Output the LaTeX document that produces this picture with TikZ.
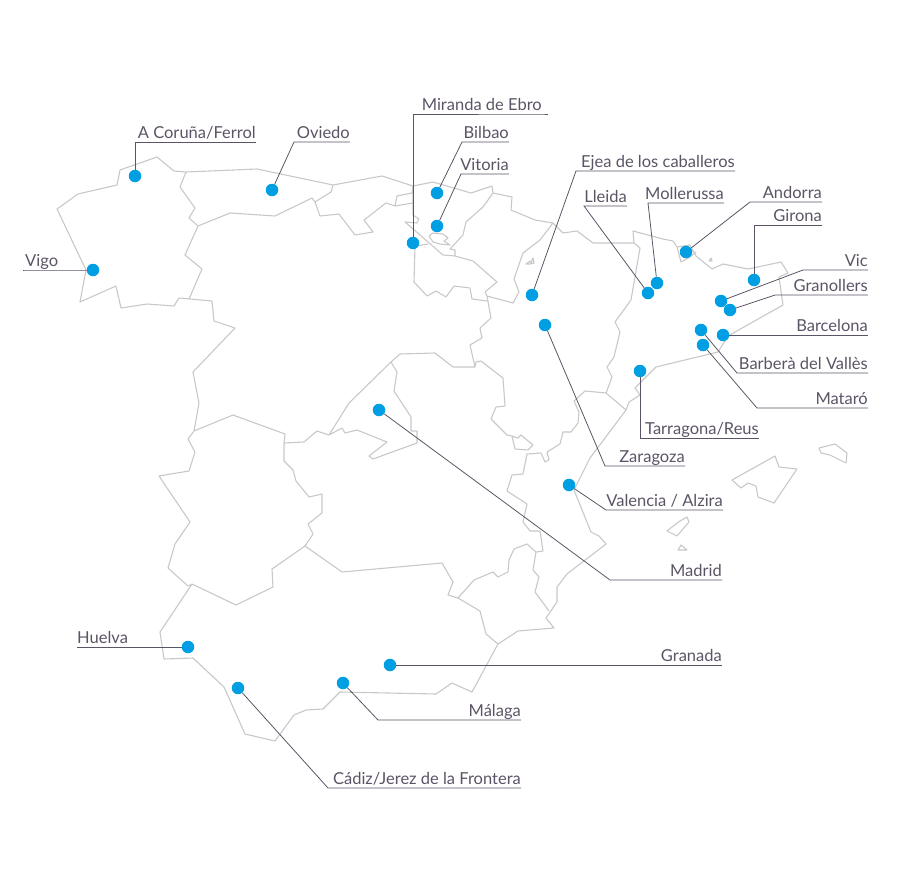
\documentclass[tikz,border=0pt]{standalone}
\usepackage{fontspec}
\setmainfont{Lato}
\definecolor{mapgrey}{HTML}{C8C8C8}
\definecolor{leadergrey}{HTML}{5C5466}
\definecolor{dotblue}{HTML}{009FE3}
\tikzset{
  border/.style = {draw=mapgrey, line width=1.1pt, line join=round},
  leader/.style = {draw=leadergrey, line width=0.8pt},
  site/.style   = {shape=circle, fill=dotblue, inner sep=0pt, minimum size=12.5pt},
  place/.style  = {inner sep=0pt, text height=10pt, text depth=3.6pt, text=leadergrey,
                   font=\fontsize{16.5}{19}\selectfont},
}
\begin{document}
\begin{tikzpicture}[x=1pt, y=-1pt]
	\useasboundingbox (0,0) rectangle (900,881);
	\path [border]
		(192,584) -- (160,632) -- (164,659) -- (193,658) -- (224,687) -- (245,734) -- (275,741)
		-- (294,715) -- (306,710) -- (323,709) -- (340,692) -- (436,694) -- (452,683) -- (472,692)
		-- (498,644) -- (518,631) -- (554,628) -- (546,618) -- (557,602) -- (557,587) -- (567,574)
		-- (606,544) -- (599,536) -- (591,532) -- (574,490) -- (590,458) -- (626,410) -- (629,402)
		-- (640,395) -- (635,388) -- (656,367) -- (718,352) -- (728,336) -- (783,305) -- (779,277)
		-- (788,273) -- (781,262) -- (748,269) -- (723,264) -- (712,269) -- (696,256) -- (690,245)
		-- (677,247) -- (681,262) -- (690,257) -- (696,252)
		(677,247) -- (673,241) -- (663,239) -- (633,231) -- (634,243) -- (593,243) -- (577,231)
		-- (563,233) -- (553,223) -- (535,220) -- (511,210) -- (512,197) -- (493,193) -- (492,186)
		-- (471,193) -- (433,182) -- (413,186) -- (382,176) -- (333,185) -- (257,169) -- (186,172)
		-- (174,171) -- (157,157) -- (120,170) -- (117,185) -- (78,194) -- (57,209) -- (86,270)
		-- (80,302) -- (116,286) -- (121,308) -- (147,304) -- (174,306) -- (179,298) -- (212,301)
		-- (214,321) -- (235,328) -- (193,372) -- (199,403) -- (194,431) -- (188,439) -- (195,452)
		-- (189,471) -- (159,476) -- (190,522) -- (175,544) -- (168,568) -- (188,586) -- (192,584)
		-- (236,605) -- (273,587) -- (272,569) -- (305,546) -- (313,534) -- (308,524) -- (322,513)
		-- (322,494) -- (309,497) -- (296,481) -- (293,470) -- (284,461) -- (284,443) -- (285,434)
		-- (233,415) -- (194,431)
		(186,172) -- (180,187) -- (195,208) -- (189,218) -- (198,226) -- (230,213) -- (275,216)
		-- (312,198) -- (315,202) -- (331,192) -- (333,185)
		(315,202) -- (320,216) -- (339,214) -- (355,235) -- (373,232) -- (364,220) -- (386,203)
		-- (395,206) -- (413,203)
		(413,186) -- (412,193) -- (397,196) -- (395,206)
		(198,226) -- (185,255) -- (202,269) -- (189,299)
		(413,186) -- (413,215) -- (419,219) -- (417,223) -- (405,222) -- (443,255) -- (455,256)
		-- (455,250) -- (450,249) -- (463,235) -- (466,222) -- (483,207) -- (493,193)
		(553,223) -- (540,240) -- (523,253) -- (514,279) -- (519,292) -- (513,303) -- (487,296)
		-- (485,292) -- (497,282) -- (473,261) -- (455,256)
		(417,246) -- (428,244)
		(415,247) -- (414,282) -- (427,296) -- (436,291) -- (446,297) -- (454,286) -- (470,288)
		-- (472,299) -- (487,301)
		(487,296) -- (491,318) -- (480,328) -- (482,338) -- (470,345) -- (475,367) -- (453,367)
		-- (435,353) -- (400,354) -- (391,362) -- (349,403) -- (329,435) -- (317,431) -- (304,442)
		-- (284,443)
		(475,367) -- (476,362) -- (481,361) -- (503,378) -- (505,406) -- (496,407) -- (491,419)
		-- (507,435) -- (512,436) -- (515,449) -- (528,450) -- (533,445) -- (521,435) -- (518,438)
		-- (512,436)
		(329,435) -- (342,428) -- (345,433) -- (357,430) -- (387,442) -- (369,456) -- (373,459)
		-- (417,443) -- (417,431) -- (411,431) -- (411,417) -- (394,391) -- (397,372) -- (391,362)
		(305,546) -- (342,572) -- (442,563) -- (453,582) -- (448,595) -- (458,598) -- (480,611)
		-- (486,634) -- (498,644)
		(458,598) -- (474,580) -- (493,572) -- (498,577) -- (508,572) -- (509,560) -- (514,549)
		-- (527,544) -- (536,552) -- (543,551) -- (540,531) -- (530,531) -- (523,522) -- (527,504)
		-- (507,491) -- (512,475) -- (523,474) -- (527,454) -- (541,453) -- (545,462) -- (549,460)
		-- (547,452) -- (560,444) -- (563,432) -- (571,432) -- (578,423) -- (579,412) -- (574,401)
		-- (585,391) -- (606,393) -- (626,410)
		(536,552) -- (533,570) -- (539,577) -- (535,592) -- (549,611)
		(606,393) -- (612,377) -- (607,367) -- (614,357) -- (620,332) -- (615,322) -- (631,300)
		-- (640,248) -- (634,243)
		(429,236) -- (433,233) -- (443,234) -- (448,238) -- (444,241) -- (450,245) -- (440,244)
		-- (433,242) -- cycle
		(526,264) -- (530,261) -- (531,263) -- (533,258) -- (534,263) -- (530,264) -- cycle
		(709,261) -- (711,258) -- (712,261) -- cycle
		(732,480) -- (775,456) -- (779,467) -- (797,469) -- (774,503) -- (758,497) -- (756,486)
		-- (748,483) -- (741,488) -- cycle
		(819,448) -- (835,444) -- (847,453) -- (846,463) -- (830,455) -- (821,453) -- cycle
		(667,531) -- (672,527) -- (680,521) -- (687,517) -- (689,522) -- (677,536) -- cycle
		(678,550) -- (681,545) -- (687,550) -- cycle;

	\node [place, anchor=south west] (vigoT) at (25,270) {Vigo};
	\node [place, anchor=south east] (coruT) at (256,142) {A Coruña/Ferrol};
	\node [place, anchor=south east] (oviedoT) at (350,142) {Oviedo};
	\node [place, anchor=south east] (mirandaT) at (542,114) {Miranda de Ebro};
	\node [place, anchor=south east] (bilbaoT) at (509,142) {Bilbao};
	\node [place, anchor=south east] (vitoriaT) at (509,174) {Vitoria};
	\node [place, anchor=south east] (ejeaT) at (735,171) {Ejea de los caballeros};
	\node [place, anchor=south east] (lleidaT) at (627,206) {Lleida};
	\node [place, anchor=south east] (molleT) at (724,203) {Mollerussa};
	\node [place, anchor=south east] (andorraT) at (822,202) {Andorra};
	\node [place, anchor=south east] (gironaT) at (822,225) {Girona};
	\node [place, anchor=south east] (vicT) at (868,270) {Vic};
	\node [place, anchor=south east] (granolT) at (868,295) {Granollers};
	\node [place, anchor=south east] (barnaT) at (868,335) {Barcelona};
	\node [place, anchor=south east] (barberaT) at (868,373) {Barberà del Vallès};
	\node [place, anchor=south east] (mataroT) at (868,408) {Mataró};
	\node [place, anchor=south east] (tarraT) at (759,438) {Tarragona/Reus};
	\node [place, anchor=south east] (zaragT) at (685,466) {Zaragoza};
	\node [place, anchor=south east] (valenT) at (723,510) {Valencia / Alzira};
	\node [place, anchor=south east] (madridT) at (722,580) {Madrid};
	\node [place, anchor=south west] (huelvaT) at (77,647) {Huelva};
	\node [place, anchor=south east] (granadaT) at (722,665) {Granada};
	\node [place, anchor=south east] (malagaT) at (521,720) {Málaga};
	\node [place, anchor=south east] (cadizT) at (521,788) {Cádiz/Jerez de la Frontera};

	\node [site] (vigo) at (93,270) {};
	\node [site] (coru) at (135,176) {};
	\node [site] (oviedo) at (272,190) {};
	\node [site] (miranda) at (413,243) {};
	\node [site] (bilbao) at (437,193) {};
	\node [site] (vitoria) at (437,226) {};
	\node [site] (ejea) at (532,295) {};
	\node [site] (zarag) at (545,325) {};
	\node [site] (lleida) at (648,293) {};
	\node [site] (molle) at (657,283) {};
	\node [site] (andorra) at (686,252) {};
	\node [site] (girona) at (754,280) {};
	\node [site] (vic) at (721,301) {};
	\node [site] (granol) at (730,310) {};
	\node [site] (barna) at (723,335) {};
	\node [site] (barbera) at (701,330) {};
	\node [site] (mataro) at (703,345) {};
	\node [site] (tarra) at (640,371) {};
	\node [site] (valen) at (569,485) {};
	\node [site] (madrid) at (379,410) {};
	\node [site] (huelva) at (188,647) {};
	\node [site] (granada) at (390,665) {};
	\node [site] (malaga) at (343,683) {};
	\node [site] (cadiz) at (238,688) {};

	\coordinate (coruK) at (135,142);
	\coordinate (oviedoK) at (294,142);
	\coordinate (mirandaK) at (413,114);
	\coordinate (bilbaoK) at (462,142);
	\coordinate (vitoriaK) at (461,174);
	\coordinate (ejeaK) at (576,171);
	\coordinate (lleidaK) at (584,206);
	\coordinate (molleK) at (648,203);
	\coordinate (andorraK) at (750,202);
	\coordinate (gironaK) at (754,225);
	\coordinate (vicK) at (803,270);
	\coordinate (granolK) at (775,295);
	\coordinate (barberaK) at (737,373);
	\coordinate (mataroK) at (757,408);
	\coordinate (tarraK) at (640,438);
	\coordinate (zaragK) at (605,466);
	\coordinate (valenK) at (606,510);
	\coordinate (madridK) at (610,580);
	\coordinate (malagaK) at (378,720);
	\coordinate (cadizK) at (328,788);

	\draw [leader] (vigo) -- (vigoT.south west) -- ++(-2,0);
	\draw [leader] (huelva) -- (huelvaT.south west);
	\draw [leader] (barna) -- (barnaT.south east);
	\draw [leader] (granada) -- (granadaT.south east);
	\draw [leader] (coru) -- (coruK) -- (coruT.south east);
	\draw [leader] (oviedo) -- (oviedoK) -- (oviedoT.south east);
	\draw [leader] (miranda) -- (mirandaK) -- (mirandaT.south east) -- ++(6,0);
	\draw [leader] (bilbao) -- (bilbaoK) -- (bilbaoT.south east);
	\draw [leader] (vitoria) -- (vitoriaK) -- (vitoriaT.south east);
	\draw [leader] (ejea) -- (ejeaK) -- (ejeaT.south east);
	\draw [leader] (lleida) -- (lleidaK) -- (lleidaT.south east);
	\draw [leader] (molle) -- (molleK) -- (molleT.south east);
	\draw [leader] (andorra) -- (andorraK) -- (andorraT.south east);
	\draw [leader] (girona) -- (gironaK) -- (gironaT.south east);
	\draw [leader] (vic) -- (vicK) -- (vicT.south east);
	\draw [leader] (granol) -- (granolK) -- (granolT.south east);
	\draw [leader] (barbera) -- (barberaK) -- (barberaT.south east);
	\draw [leader] (mataro) -- (mataroK) -- (mataroT.south east);
	\draw [leader] (tarra) -- (tarraK) -- (tarraT.south east);
	\draw [leader] (zarag) -- (zaragK) -- (zaragT.south east);
	\draw [leader] (valen) -- (valenK) -- (valenT.south east);
	\draw [leader] (madrid) -- (madridK) -- (madridT.south east);
	\draw [leader] (malaga) -- (malagaK) -- (malagaT.south east);
	\draw [leader] (cadiz) -- (cadizK) -- (cadizT.south east);
\end{tikzpicture}
\end{document}
